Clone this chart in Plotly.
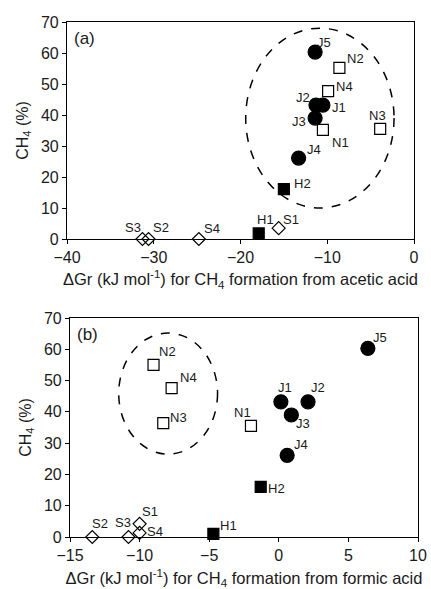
import plotly.graph_objects as go

# ---------- data ----------
labels_J = ["J1", "J2", "J3", "J4", "J5"]
labels_N = ["N1", "N2", "N3", "N4"]
labels_H = ["H1", "H2"]
labels_S = ["S1", "S2", "S3", "S4"]

# CH4 (%)
ch4_J = [43.2, 43.2, 39.0, 26.1, 60.3]
ch4_N = [35.2, 55.2, 35.5, 47.7]
ch4_H = [1.8, 16.1]
ch4_S = [3.5, 0.0, 0.0, 0.0]
ch4_N_b = [35.5, 55.0, 36.4, 47.6]
ch4_S_b = [4.2, 0.0, 0.0, 1.3]
ch4_H_b = [1.0, 16.0]

# (a) dGr, acetic acid
dg_ac_J = [-10.5, -11.3, -11.4, -13.3, -11.4]
dg_ac_N = [-10.5, -8.6, -3.9, -9.9]
dg_ac_H = [-17.9, -15.0]
dg_ac_S = [-15.6, -30.6, -31.3, -24.8]

# (b) dGr, formic acid
dg_fo_J = [0.15, 2.1, 0.9, 0.6, 6.4]
dg_fo_N = [-2.0, -9.0, -8.3, -7.7]
dg_fo_H = [-4.7, -1.3]
dg_fo_S = [-10.0, -13.4, -10.8, -10.0]

ellipse_a = [-19.4, 10.0, -2.3, 68.0]   # x0, y0, x1, y1
ellipse_b = [-11.5, 26.5, -4.4, 65.2]

xticks_a = [-40, -30, -20, -10, 0]
xticks_b = [-15, -10, -5, 0, 5, 10]
yticks = [0, 10, 20, 30, 40, 50, 60, 70]

# label offsets in pixels (dx right, dy down)
off_a = {"J1": (16, 2), "J2": (-13, -8), "J3": (-16, 3), "J4": (15, -9), "J5": (9, -10),
         "N1": (18, 13), "N2": (16, -9), "N3": (-3, -13), "N4": (16, -5),
         "H1": (7, -14), "H2": (19, -6),
         "S1": (12, -9), "S2": (12, -12), "S3": (-9, -12), "S4": (13, -11)}
off_b = {"J1": (4, -14), "J2": (10, -14), "J3": (12, 9), "J4": (14, -11), "J5": (12, -11),
         "N1": (-8, -13), "N2": (14, -13), "N3": (15, -6), "N4": (17, -11),
         "H1": (15, -8), "H2": (16, 2),
         "S1": (10, -12), "S2": (8, -14), "S3": (-5, -15), "S4": (15, -1)}

FONT = "Liberation Sans, Arial, sans-serif"
TXT = "#1a1a1a"
fig = go.Figure()

def add_series(x, y, txt, symbol, size, xa, ya, offs):
    fig.add_trace(go.Scatter(
        x=x, y=y, mode="markers",
        marker=dict(symbol=symbol, size=size, color="black",
                    line=dict(color="black", width=1.2)),
        xaxis=xa, yaxis=ya, cliponaxis=False, showlegend=False, hoverinfo="text", text=txt))
    for xi, yi, t in zip(x, y, txt):
        dx, dy = offs[t]
        fig.add_annotation(x=xi, y=yi, xref=xa, yref=ya, text=t, showarrow=False,
                           xshift=dx, yshift=-dy, xanchor="center", yanchor="middle",
                           font=dict(family=FONT, size=13, color=TXT))

for xa, ya, xs, ys, offs in [
    ("x", "y", (dg_ac_J, dg_ac_N, dg_ac_H, dg_ac_S), (ch4_J, ch4_N, ch4_H, ch4_S), off_a),
    ("x2", "y2", (dg_fo_J, dg_fo_N, dg_fo_H, dg_fo_S), (ch4_J, ch4_N_b, ch4_H_b, ch4_S_b), off_b),
]:
    add_series(xs[0], ys[0], labels_J, "circle", 14, xa, ya, offs)
    add_series(xs[1], ys[1], labels_N, "square-open", 11, xa, ya, offs)
    add_series(xs[2], ys[2], labels_H, "square", 11, xa, ya, offs)
    add_series(xs[3], ys[3], labels_S, "diamond-open", 10, xa, ya, offs)

for e, xr, yr in [(ellipse_a, "x", "y"), (ellipse_b, "x2", "y2")]:
    fig.add_shape(type="circle", xref=xr, yref=yr, x0=e[0], y0=e[1], x1=e[2], y1=e[3],
                  line=dict(color="black", width=1.5, dash="dash"))

axis_common = dict(showgrid=False, zeroline=False, showline=True, linecolor="black",
                   linewidth=1.2, mirror=True, ticks="outside", ticklen=4,
                   tickcolor="black", automargin=False,
                   tickfont=dict(family=FONT, size=16, color=TXT))

ytitle = dict(text="CH<sub>4</sub> (%)", font=dict(family=FONT, size=16, color=TXT), standoff=8)

fig.update_layout(
    width=431, height=589, margin=dict(l=0, r=0, t=0, b=0),
    paper_bgcolor="white", plot_bgcolor="white",
    xaxis=dict(domain=[67/431, 414/431], range=[-40, 0], tickvals=xticks_a, anchor="y",
               title=dict(text="ΔGr (kJ mol<sup>-1</sup>) for CH<sub>4</sub> formation from acetic acid",
                          font=dict(family=FONT, size=16.5, color=TXT), standoff=8),
               **axis_common),
    yaxis=dict(domain=[1-239/589, 1-22/589], range=[0, 70], tickvals=yticks, anchor="x",
               title=ytitle, **axis_common),
    xaxis2=dict(domain=[70/431, 418/431], range=[-15, 10], tickvals=xticks_b, anchor="y2",
                title=dict(text="ΔGr (kJ mol<sup>-1</sup>) for CH<sub>4</sub> formation from formic acid",
                           font=dict(family=FONT, size=16.5, color=TXT), standoff=14),
                **axis_common),
    yaxis2=dict(domain=[1-537/589, 1-318/589], range=[0, 70], tickvals=yticks, anchor="x2",
                title=ytitle, **axis_common),
)

fig.add_annotation(text="(a)", xref="x domain", yref="y domain", x=0.015, y=0.975,
                   xanchor="left", yanchor="top", showarrow=False,
                   font=dict(family=FONT, size=17, color=TXT))
fig.add_annotation(text="(b)", xref="x2 domain", yref="y2 domain", x=0.015, y=0.975,
                   xanchor="left", yanchor="top", showarrow=False,
                   font=dict(family=FONT, size=17, color=TXT))

fig.write_html("out.html", config={"displayModeBar": False},
               post_script="document.body.style.margin='0';document.body.style.overflow='hidden';")
